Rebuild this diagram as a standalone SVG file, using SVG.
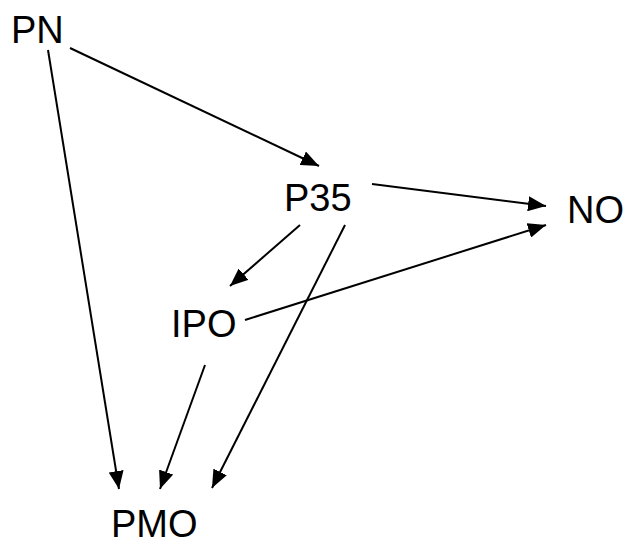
<svg xmlns="http://www.w3.org/2000/svg" width="628" height="546" viewBox="0 0 628 546">
<style>
text{font-family:"Liberation Sans",Arial,sans-serif;font-size:38px;fill:#000}
.c line{stroke:#000;stroke-width:2;marker-end:url(#ah)}
</style>
<defs>
<marker id="ah" markerUnits="userSpaceOnUse" markerWidth="18" markerHeight="15" viewBox="0 0 18 15" refX="18" refY="7.5" orient="auto">
<path d="M0,0 L18,7.5 L0,15 Z" fill="#000"/>
</marker>
</defs>
<rect width="628" height="546" fill="#fff"/>
<g class="c" id="connectors">
<line x1="70" y1="48" x2="319" y2="166"/>
<line x1="48" y1="50" x2="119" y2="489"/>
<line x1="372" y1="184" x2="546" y2="206"/>
<line x1="245" y1="320" x2="546" y2="225"/>
<line x1="300" y1="225" x2="230" y2="286"/>
<line x1="205" y1="365" x2="160" y2="489"/>
<line x1="345" y1="225" x2="212" y2="488"/>
</g>
<g id="PN"><text x="11" y="43">PN</text></g>
<g id="P35"><text x="284" y="211">P35</text></g>
<g id="NO"><text x="567" y="223">NO</text></g>
<g id="IPO"><text x="171" y="337">IPO</text></g>
<g id="PMO"><text x="111" y="537">PMO</text></g>
</svg>
